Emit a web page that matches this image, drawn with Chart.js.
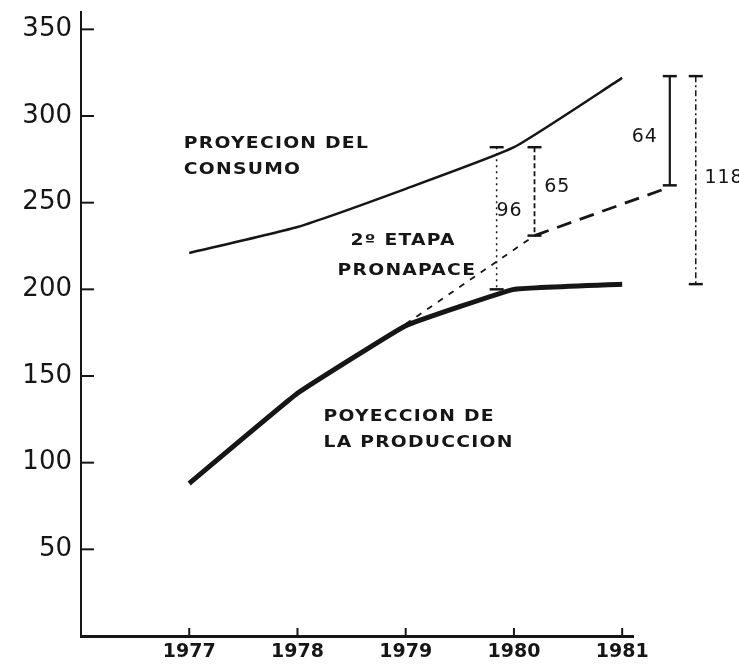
<!DOCTYPE html>
<html>
<head>
<meta charset="utf-8">
<script src="https://cdn.jsdelivr.net/npm/chart.js@4/dist/chart.umd.min.js"></script>
<style>
  html, body { margin: 0; padding: 0; background: #fff; }
  canvas { display: block; }
</style>
</head>
<body>
<canvas id="grafica" width="739" height="666"></canvas>
<script>
// datos
var anios = [1977, 1978, 1979, 1980, 1981];
var consumo = [221, 236, 258, 282, 322];
var produccion = [88, 140, 179, 200, 203];

// 2a etapa PRONAPACE (linea discontinua)
var pronapaceX = [1979, 1980.19, 1981.44];
var pronapaceY = [180, 231, 259];

// diferencias marcadas con corchetes
var difX = [1979.84, 1980.19, 1981.44, 1981.68];
var difArriba = [282, 282, 323, 323];
var difAbajo = [200, 231, 260, 203];
var difEtiquetas = ['96', '65', '64', '118'];

var ticksY = [50, 100, 150, 200, 250, 300, 350];

var negro = '#161616';

function puntos(xs, ys){
    var r = [];
    for(var i in xs){
        r.push({x: xs[i], y: ys[i]});
    }
    return r;
}

var estilosDif = [
    {dash: [2, 4], width: 1.5},
    {dash: [5, 3], width: 1.8},
    {dash: [], width: 2.2},
    {dash: [6, 3, 2, 3], width: 1.5}
];

var datasets = [
    {
        data: puntos(anios, consumo),
        borderColor: negro,
        borderWidth: 2.5,
        tension: 0.15,
        pointRadius: 0
    },
    {
        data: puntos(anios, produccion),
        borderColor: negro,
        borderWidth: 5,
        tension: 0.08,
        pointRadius: 0
    },
    {
        data: puntos(pronapaceX, pronapaceY),
        borderColor: negro,
        borderWidth: 2.5,
        segment: {
            borderDash: function(c){ return c.p0DataIndex === 0 ? [6, 7] : [15, 9]; },
            borderWidth: function(c){ return c.p0DataIndex === 0 ? 1.8 : 2.8; }
        },
        tension: 0,
        pointRadius: 0,
        clip: false
    }
];

var primerDif = datasets.length;
for(var i in difX){
    datasets.push({
        data: [{x: difX[i], y: difArriba[i]}, {x: difX[i], y: difAbajo[i]}],
        borderColor: negro,
        borderWidth: estilosDif[i].width,
        borderDash: estilosDif[i].dash,
        pointRadius: 0,
        clip: false
    });
}

// textos sobre la grafica (posicion en unidades de los ejes)
var notas = [
    {t: 'PROYECION DEL', x: 1976.95, y: 284},
    {t: 'CONSUMO', x: 1976.95, y: 269},
    {t: '2º ETAPA', x: 1978.49, y: 228},
    {t: 'PRONAPACE', x: 1978.37, y: 210.5},
    {t: 'POYECCION DE', x: 1978.24, y: 126.5},
    {t: 'LA PRODUCCION', x: 1978.24, y: 111.5}
];
var posDif = [
    {x: 1979.96, y: 245, a: 'center'},
    {x: 1980.28, y: 259, a: 'left'},
    {x: 1981.33, y: 288, a: 'right'},
    {x: 1981.76, y: 264, a: 'left'}
];

var adornos = {
    id: 'adornos',
    afterDraw: function(chart){
        var ctx = chart.ctx;
        var xs = chart.scales.x, ys = chart.scales.y;
        var area = chart.chartArea;
        ctx.save();
        ctx.strokeStyle = negro;
        ctx.lineWidth = 2;
        // marcas hacia adentro
        for(var i in ticksY){
            var py = ys.getPixelForValue(ticksY[i]);
            ctx.beginPath();
            ctx.moveTo(area.left, py);
            ctx.lineTo(area.left + 13, py);
            ctx.stroke();
        }
        for(var j in anios){
            var px = xs.getPixelForValue(anios[j]);
            ctx.beginPath();
            ctx.moveTo(px, area.bottom);
            ctx.lineTo(px, area.bottom - 8);
            ctx.stroke();
        }
        // topes de los corchetes
        ctx.lineWidth = 2.5;
        for(var d = primerDif; d < chart.data.datasets.length; d++){
            var pts = chart.getDatasetMeta(d).data;
            for(var p in pts){
                ctx.beginPath();
                ctx.moveTo(pts[p].x - 7, pts[p].y);
                ctx.lineTo(pts[p].x + 7, pts[p].y);
                ctx.stroke();
            }
        }
        ctx.fillStyle = negro;
        ctx.textBaseline = 'middle';
        ctx.font = 'bold 15px "DejaVu Sans"';
        ctx.letterSpacing = '1px';
        for(var k in notas){
            var tx = xs.getPixelForValue(notas[k].x);
            var ty = ys.getPixelForValue(notas[k].y);
            ctx.save();
            ctx.translate(tx, ty);
            ctx.scale(1.25, 1);
            ctx.textAlign = 'left';
            ctx.fillText(notas[k].t, 0, 0);
            ctx.restore();
        }
        ctx.font = '19px "DejaVu Sans"';
        ctx.letterSpacing = '1px';
        for(var m in posDif){
            ctx.textAlign = posDif[m].a;
            ctx.fillText(difEtiquetas[m], xs.getPixelForValue(posDif[m].x), ys.getPixelForValue(posDif[m].y));
        }
        ctx.restore();
    }
};

var grafica = new Chart(document.getElementById('grafica'), {
    type: 'line',
    data: {datasets: datasets},
    options: {
        responsive: false,
        animation: false,
        devicePixelRatio: 1,
        layout: {padding: {top: 12, right: 106, left: 0, bottom: 0}},
        plugins: {legend: {display: false}, tooltip: {enabled: false}},
        scales: {
            x: {
                type: 'linear',
                min: 1976,
                max: 1981.1,
                afterBuildTicks: function(s){ s.ticks = anios.map(function(v){ return {value: v}; }); },
                afterFit: function(s){ s.height = 30; s.paddingLeft = 0; s.paddingRight = 0; },
                grid: {display: false, drawTicks: false},
                border: {display: true, color: negro, width: 3},
                ticks: {
                    padding: 5,
                    color: negro,
                    maxRotation: 0,
                    font: {family: 'DejaVu Sans', size: 19, weight: 'bold'},
                    callback: function(v){ return String(v); }
                }
            },
            y: {
                min: 0,
                max: 360,
                afterBuildTicks: function(s){ s.ticks = ticksY.map(function(v){ return {value: v}; }); },
                afterFit: function(s){ s.width = 81; s.paddingTop = 0; s.paddingBottom = 0; },
                grid: {display: false, drawTicks: false},
                border: {display: true, color: negro, width: 2},
                ticks: {
                    padding: 9,
                    color: negro,
                    font: {family: 'DejaVu Sans', size: 26},
                    callback: function(v){ return String(v); }
                }
            }
        }
    },
    plugins: [adornos]
});
</script>
</body>
</html>
